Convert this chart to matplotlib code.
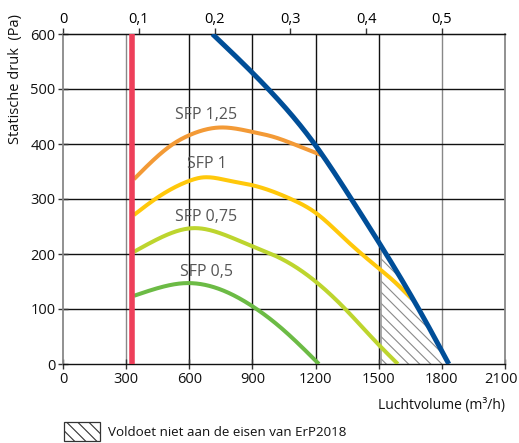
import numpy as np
import matplotlib
matplotlib.use("Agg")
import matplotlib.pyplot as plt
from matplotlib.patches import Rectangle
from matplotlib.transforms import ScaledTranslation

plt.rcParams['font.family'] = ['Open Sans', 'DejaVu Sans']
plt.rcParams['hatch.linewidth'] = 0.8
plt.rcParams['hatch.color'] = '#8a8a8a'

# ---- data (m3/h, Pa) ----
blue_q = [710, 975, 1195, 1370, 1535, 1690, 1833]
blue_p = [600, 500, 400, 300, 200, 100, 0]

sfp125_q = [337, 430, 523, 600, 745, 900, 1000, 1108, 1227]
sfp125_p = [336, 371, 400, 416, 430, 422, 413, 398, 380]

sfp1_q = [337, 450, 600, 658, 792, 900, 1077, 1200, 1346, 1500, 1591, 1654]
sfp1_p = [271, 303, 333, 339, 333, 325, 301, 275, 225, 174, 144, 120]

sfp075_q = [337, 460, 618, 745, 887, 1029, 1200, 1346, 1500, 1591]
sfp075_p = [204, 229, 247, 238, 216, 193, 150, 98, 35, 0]

sfp05_q = [337, 460, 579, 745, 900, 1029, 1216]
sfp05_p = [124, 139, 147, 136, 105, 68, 0]

red_q = 330
erp_limit_q = 1510

labels = ["SFP 1,25", "SFP 1", "SFP 0,75", "SFP 0,5"]
label_q = [682, 682, 682, 682]
label_p = [453, 364, 268, 168]

xticks = [0, 300, 600, 900, 1200, 1500, 1800, 2100]
yticks = [0, 100, 200, 300, 400, 500, 600]
top_ticks = [0, 0.1, 0.2, 0.3, 0.4, 0.5]


def spline(xs, ys, n=300):
    """Natural cubic spline through the read points (for a smooth drawing)."""
    x = np.asarray(xs, float)
    y = np.asarray(ys, float)
    m = len(x)
    h = np.diff(x)
    A = np.zeros((m, m))
    b = np.zeros(m)
    A[0, 0] = A[-1, -1] = 1
    for i in range(1, m - 1):
        A[i, i - 1] = h[i - 1]
        A[i, i] = 2 * (h[i - 1] + h[i])
        A[i, i + 1] = h[i]
        b[i] = 3 * ((y[i + 1] - y[i]) / h[i] - (y[i] - y[i - 1]) / h[i - 1])
    c = np.linalg.solve(A, b)
    xx = np.linspace(x[0], x[-1], n)
    idx = np.clip(np.searchsorted(x, xx) - 1, 0, m - 2)
    dx = xx - x[idx]
    hi = h[idx]
    bb = (y[idx + 1] - y[idx]) / hi - hi * (2 * c[idx] + c[idx + 1]) / 3
    dd = (c[idx + 1] - c[idx]) / (3 * hi)
    yy = y[idx] + bb * dx + c[idx] * dx ** 2 + dd * dx ** 3
    return xx, yy


fig = plt.figure(figsize=(5.19, 4.43), dpi=100)
ax = fig.add_axes([63 / 519, 1 - 364 / 443, 442 / 519, 330 / 443])
ax.set_xlim(0, 2100)
ax.set_ylim(0, 600)

# grid
for q in xticks[1:-1]:
    col = '#888888' if q in (300, 1800) else '#111111'
    ax.axvline(q, color=col, lw=1.0, zorder=1)
for p in yticks[1:-1]:
    ax.axhline(p, color='#111111', lw=1.0, zorder=1)

for side in ('left', 'right'):
    ax.spines[side].set_color('#888888')
    ax.spines[side].set_linewidth(1.3)
for side in ('top', 'bottom'):
    ax.spines[side].set_color('#111111')
    ax.spines[side].set_linewidth(1.0)

# blue fan curve and hatched region
bx, by = spline(blue_q, blue_p)
hx = np.linspace(erp_limit_q, blue_q[-1], 100)
hy = np.interp(hx, bx, by)
ax.fill_between(hx, 0, hy, facecolor='white', hatch='\\\\\\', edgecolor='#8a8a8a', lw=0, zorder=2)
ax.plot([erp_limit_q, erp_limit_q], [0, np.interp(erp_limit_q, bx, by)], color='#999999', lw=1.2, zorder=2)

curves = [
    (sfp125_q, sfp125_p, '#f39a36'),
    (sfp1_q, sfp1_p, '#ffc80a'),
    (sfp075_q, sfp075_p, '#bdd52e'),
    (sfp05_q, sfp05_p, '#6cbb45'),
]
for q, p, c in curves:
    sx, sy = spline(q, p)
    ax.plot(sx, sy, color=c, lw=2.9, solid_capstyle='butt', zorder=3)

ax.plot(bx, by, color='#004e98', lw=3.6, solid_capstyle='butt', zorder=4)
ax.plot([red_q, red_q], [0, 600], color='#ee3f5a', lw=4.0, solid_capstyle='butt', zorder=4)

for t, q, p in zip(labels, label_q, label_p):
    ax.text(q, p, t, ha='center', va='center', color='#555555', fontsize=11.5)

ax.set_xticks(xticks)
ax.set_yticks(yticks)
ax.tick_params(axis='both', direction='inout', length=7, width=1.0, color='#333333',
               labelsize=10.5, labelcolor='#111111', pad=2)
last = ax.get_xticklabels()[-1]
last.set_transform(last.get_transform() + ScaledTranslation(-4 / 100, 0, fig.dpi_scale_trans))

sec = ax.secondary_xaxis('top', functions=(lambda q: q / 3600.0, lambda s: s * 3600.0))
sec.set_xticks(top_ticks)
sec.set_xticklabels([("%g" % v).replace('.', ',') for v in top_ticks])
sec.tick_params(direction='out', length=4, width=1.0, color='#333333', labelsize=10.5, pad=1)

fig.text(16 / 519, 1 - 79 / 443, "Statische druk  (Pa)", rotation=90, ha='center', va='center',
         fontsize=10.5, color='#111111')
fig.text(505 / 519, 1 - 406 / 443, "Luchtvolume (m³/h)", ha='right', va='center',
         fontsize=10, color='#111111')

# legend
lax = fig.add_axes([0, 0, 1, 1], facecolor='none')
lax.set_xlim(0, 519)
lax.set_ylim(443, 0)
lax.axis('off')
lax.add_patch(Rectangle((64, 422), 36, 19, facecolor='white', edgecolor='#333333',
                        hatch='\\\\\\', lw=0.9))
lax.text(108, 432, "Voldoet niet aan de eisen van ErP2018", ha='left', va='center',
         fontsize=9.6, color='#111111')

fig.savefig("out.png", dpi=100)
